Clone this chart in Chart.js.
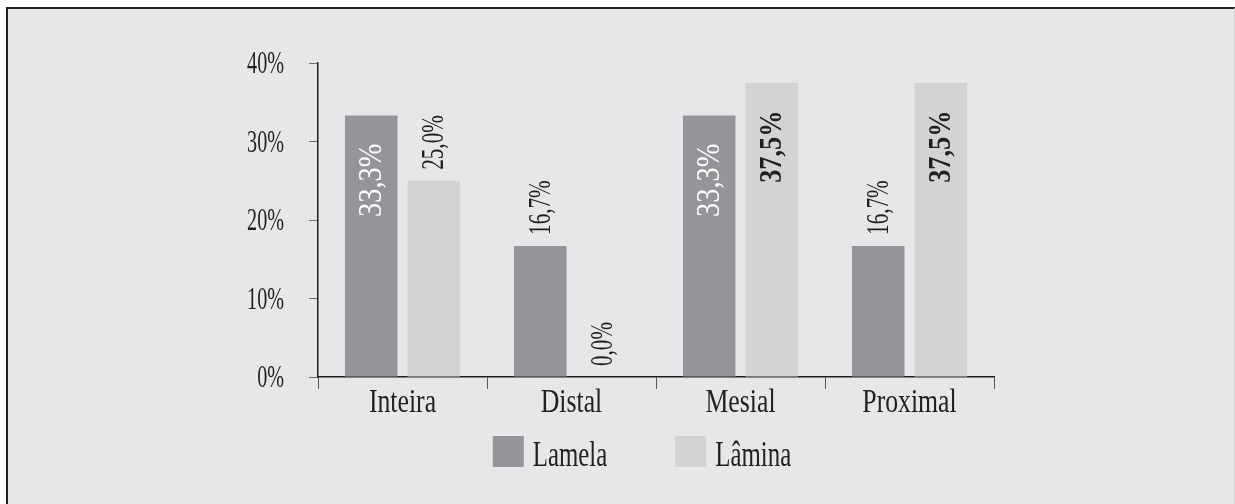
<!DOCTYPE html>
<html>
<head>
<meta charset="utf-8">
<script src="https://cdn.jsdelivr.net/npm/chart.js@4.4.0/dist/chart.umd.min.js"></script>
<style>
    html, body { margin: 0; padding: 0; background: #ffffff; }
    body { width: 1235px; height: 504px; position: relative; overflow: hidden; }
    .frame {
        position: absolute; left: 6px; top: 7px; width: 1226px; height: 520px;
        background: #e6e7e8;
        border-top: 2px solid #231f20;
        border-left: 2px solid #231f20;
        border-right: 1px solid #cfd0d2;
    }
    #chart { position: absolute; left: 0; top: 0; }
</style>
</head>
<body>
<div class="frame"></div>
<canvas id="chart" width="1235" height="504"></canvas>
<script>
// Dados do gráfico
const categorias = ['Inteira', 'Distal', 'Mesial', 'Proximal'];
const lamela = [33.3, 16.7, 33.3, 16.7];
const lamina = [25.0, 0.0, 37.5, 37.5];
const seriesNomes = ['Lamela', 'Lâmina'];
const yTicks = [0, 10, 20, 30, 40];

const FONTE = "'Liberation Serif', 'Times New Roman', serif";
const TEXTO = '#231f20';
const COR_LAMELA = '#939598';
const COR_LAMINA = '#d1d3d4';

// A fonte original é uma serifada condensada: texto mais alto e estreito
const estiloDentro = [
    { color: '#ffffff', weight: 'normal', size: 33, sx: 0.86 },
    { color: TEXTO, weight: 'bold', size: 32, sx: 0.82 }
];
const estiloFora = { color: TEXTO, weight: 'normal', size: 32, sx: 0.66 };
const LIMITE_DENTRO = 30;

function formatar(v) {
    return v.toFixed(1).replace('.', ',') + '%';
}

function textoCondensado(ctx, txt, x, y, sx, rot) {
    ctx.save();
    ctx.translate(x, y);
    if (rot) ctx.rotate(rot);
    ctx.scale(sx, 1);
    ctx.fillText(txt, 0, 0);
    ctx.restore();
}

// Rótulos rotacionados sobre / dentro das barras
const rotulosPlugin = {
    id: 'rotulos',
    afterDatasetsDraw(chart) {
        const ctx = chart.ctx;
        chart.data.datasets.forEach((ds, di) => {
            const meta = chart.getDatasetMeta(di);
            meta.data.forEach((bar, i) => {
                const v = ds.data[i];
                const dentro = v >= LIMITE_DENTRO;
                const st = dentro ? estiloDentro[di] : estiloFora;
                ctx.save();
                ctx.font = `${st.weight} ${st.size}px ${FONTE}`;
                ctx.fillStyle = st.color;
                ctx.textBaseline = 'middle';
                ctx.textAlign = dentro ? 'right' : 'left';
                const y = dentro ? bar.y + 28 : bar.y - 11;
                textoCondensado(ctx, formatar(v), bar.x + 1, y, st.sx, -Math.PI / 2);
                ctx.restore();
            });
        });
    }
};

// Rótulos dos eixos desenhados com a fonte condensada
const eixosPlugin = {
    id: 'eixos',
    afterDraw(chart) {
        const ctx = chart.ctx;
        const sy = chart.scales.y, sxScale = chart.scales.x;
        ctx.save();
        ctx.fillStyle = TEXTO;
        ctx.font = `normal 32px ${FONTE}`;
        ctx.textAlign = 'right';
        ctx.textBaseline = 'middle';
        sy.ticks.forEach(t => {
            textoCondensado(ctx, t.value + '%', sy.right - 9 - 25, sy.getPixelForValue(t.value) + 2, 0.63);
        });
        ctx.font = `normal 33px ${FONTE}`;
        ctx.textAlign = 'center';
        ctx.textBaseline = 'alphabetic';
        categorias.forEach((c, i) => {
            textoCondensado(ctx, c, sxScale.getPixelForTick(i), sxScale.top + 35, 0.78);
        });
        ctx.restore();
    }
};

// Legenda desenhada à mão (quadrados grandes e espaçamento largo)
const legendaPlugin = {
    id: 'legenda',
    afterDraw(chart) {
        const ctx = chart.ctx;
        const box = 31, gapTexto = 9, gapItem = 68, centroX = 642, topo = 436, base = 466, sx = 0.71;
        ctx.save();
        ctx.font = `normal 35px ${FONTE}`;
        const larguras = chart.data.datasets.map(ds => box + gapTexto + ctx.measureText(ds.label).width * sx);
        const total = larguras.reduce((a, b) => a + b, 0) + gapItem * (larguras.length - 1);
        let x = centroX - total / 2;
        chart.data.datasets.forEach((ds, i) => {
            ctx.fillStyle = ds.backgroundColor;
            ctx.fillRect(x, topo, box, box);
            ctx.fillStyle = TEXTO;
            ctx.textBaseline = 'alphabetic';
            ctx.textAlign = 'left';
            textoCondensado(ctx, ds.label, x + box + gapTexto, base, sx);
            x += larguras[i] + gapItem;
        });
        ctx.restore();
    }
};

const ctx = document.getElementById('chart');
new Chart(ctx, {
    type: 'bar',
    data: {
        labels: categorias,
        datasets: [
            { label: seriesNomes[0], data: lamela, backgroundColor: COR_LAMELA },
            { label: seriesNomes[1], data: lamina, backgroundColor: COR_LAMINA }
        ]
    },
    options: {
        responsive: false,
        animation: false,
        devicePixelRatio: 1,
        layout: { padding: { left: 240, right: 241, top: 63, bottom: 85 } },
        datasets: {
            bar: { categoryPercentage: 0.74, barPercentage: 0.84 }
        },
        plugins: {
            legend: { display: false },
            tooltip: { enabled: false }
        },
        scales: {
            x: {
                grid: { drawOnChartArea: false, drawTicks: true, tickLength: 12, color: '#58595b', offset: true },
                border: { display: true, color: TEXTO, width: 1.5 },
                ticks: { color: 'rgba(0,0,0,0)', font: { family: FONTE, size: 25 }, padding: 0 },
                afterFit(scale) {
                    scale.height = 42;
                    scale.paddingLeft = 0;
                    scale.paddingRight = 0;
                }
            },
            y: {
                min: 0,
                max: 40,
                afterBuildTicks(scale) {
                    scale.ticks = yTicks.map(v => ({ value: v }));
                },
                grid: { drawOnChartArea: false, drawTicks: true, tickLength: 9, color: '#6d6e71' },
                border: { display: true, color: TEXTO, width: 1.5 },
                ticks: {
                    color: 'rgba(0,0,0,0)',
                    font: { family: FONTE, size: 21 },
                    padding: 25,
                    callback: v => v + '%'
                },
                afterFit(scale) {
                    scale.width = 78;
                    scale.paddingTop = 0;
                    scale.paddingBottom = 0;
                }
            }
        }
    },
    plugins: [rotulosPlugin, eixosPlugin, legendaPlugin]
});
</script>
</body>
</html>
